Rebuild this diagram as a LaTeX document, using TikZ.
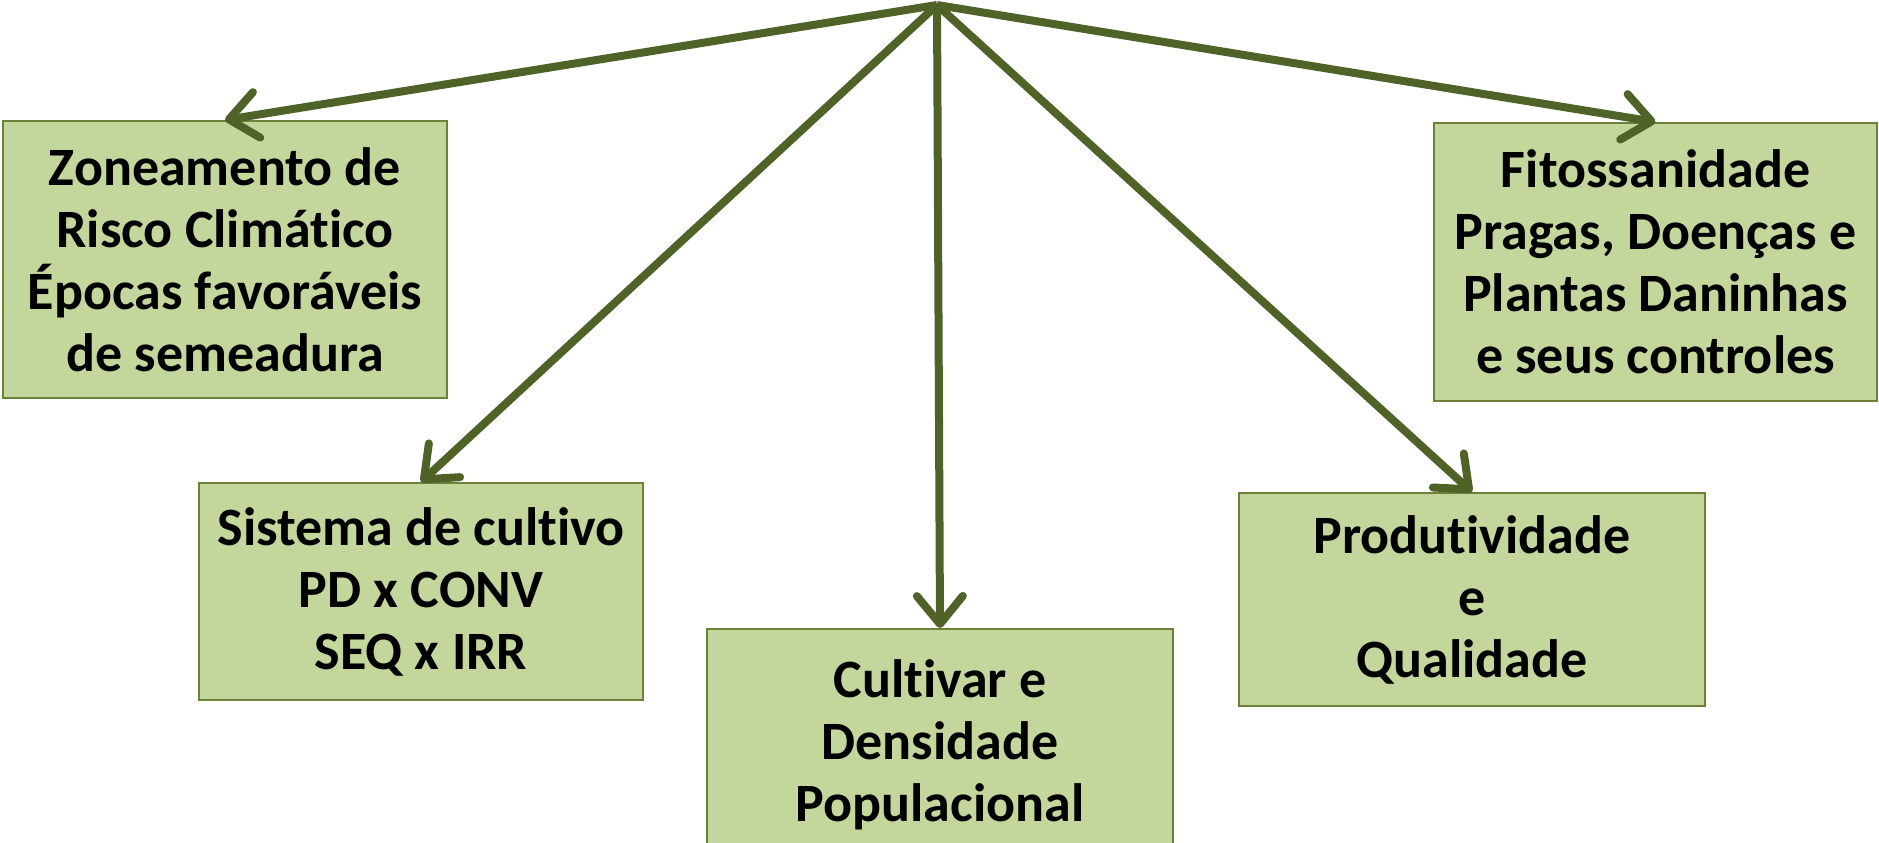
\documentclass[tikz,border=0pt]{standalone}
\usepackage{fontspec}
\setmainfont{Carlito}[Ligatures=NoCommon]
\usetikzlibrary{arrows.meta}
\definecolor{olivedark}{HTML}{4F6228}
\definecolor{olivelight}{HTML}{C3D69B}
\definecolor{oliveedge}{HTML}{6B8239}

\begin{document}
\begin{tikzpicture}[x=1pt,y=-1pt,
  topic/.style={draw=oliveedge,line width=2pt,fill=olivelight,inner sep=0pt,
    align=center,font=\fontsize{54}{62}\selectfont\bfseries},
  link/.style={draw=olivedark,line width=8pt,
    -{Straight Barb[length=28pt,width=46pt,round]}}]
  \useasboundingbox (0,0) rectangle (1879,843);

  % Common starting point of the arrows
  \coordinate (apex) at (937,5);

  % The five topics
  \node[topic,minimum width=444pt,minimum height=277pt] (zoneamento) at (225,259.5)
    {Zoneamento de\\Risco Climático\\Épocas favoráveis\\de semeadura};
  \node[topic,minimum width=444pt,minimum height=217pt] (sistema) at (421,591.5)
    {Sistema de cultivo\\PD x CONV\\SEQ x IRR};
  \node[topic,minimum width=466pt,minimum height=232pt] (cultivar) at (940,745)
    {Cultivar e\\Densidade\\Populacional};
  \node[topic,minimum width=466pt,minimum height=213pt] (produtividade) at (1472,599.5)
    {Produtividade\\e\\Qualidade};
  \node[topic,minimum width=443pt,minimum height=278pt] (fitossanidade) at (1655.5,262)
    {Fitossanidade\\Pragas, Doenças e\\Plantas Daninhas\\e seus controles};

  % Arrows
  \draw[link] (apex) -- (zoneamento.north);
  \draw[link] (apex) -- (sistema.north);
  \draw[link] (apex) -- (cultivar.north);
  \draw[link] (apex) -- (produtividade.north);
  \draw[link] (apex) -- (fitossanidade.north);
\end{tikzpicture}
\end{document}
